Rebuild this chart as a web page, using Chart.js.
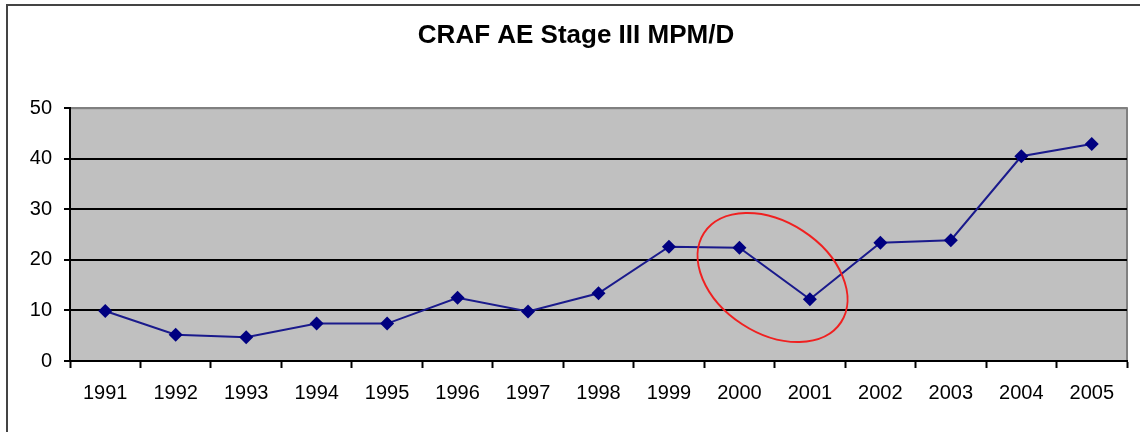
<!DOCTYPE html>
<html>
<head>
<meta charset="utf-8">
<script src="https://cdn.jsdelivr.net/npm/chart.js@4"></script>
<style>
    html, body { margin: 0; padding: 0; background: #fff; }
    #wrap { position: relative; width: 1140px; height: 432px; overflow: hidden; }
    #frame { position: absolute; left: 6px; top: 4px; width: 1200px; height: 500px; border: 2px solid #444; box-sizing: border-box; }
    canvas { position: absolute; left: 0; top: 0; }
</style>
</head>
<body>
<div id="wrap">
    <div id="frame"></div>
    <canvas id="chart" width="1140" height="432"></canvas>
</div>
<script>
const years = ['1991', '1992', '1993', '1994', '1995', '1996', '1997', '1998', '1999', '2000', '2001', '2002', '2003', '2004', '2005'];
const mpmValues = [9.9, 5.2, 4.7, 7.4, 7.4, 12.5, 9.8, 13.4, 22.6, 22.4, 12.2, 23.4, 23.9, 40.5, 42.9];
const yTicks = [0, 10, 20, 30, 40, 50];

// highlighted dip (2000 -> 2001), in data units
const circleCenter = { x: 9.47, y: 16.5 };

Chart.defaults.font.family = '"Liberation Sans", Arial, sans-serif';
Chart.defaults.color = '#000';

const plotBackground = {
    id: 'plotBackground',
    beforeDraw(chart) {
        const { ctx, chartArea: a } = chart;
        ctx.save();
        ctx.fillStyle = '#C0C0C0';
        ctx.fillRect(a.left, a.top, a.right - a.left, a.bottom - a.top);
        ctx.strokeStyle = '#808080';
        ctx.lineWidth = 2;
        ctx.strokeRect(a.left, a.top, a.right - a.left, a.bottom - a.top);
        ctx.restore();
    }
};

const redCircle = {
    id: 'redCircle',
    afterDatasetsDraw(chart) {
        const { ctx, scales } = chart;
        const x = scales.x;
        const y = scales.y;
        const step = x.getPixelForValue(1) - x.getPixelForValue(0);
        const cx = x.getPixelForValue(9) + (circleCenter.x - 9) * step;
        const cy = y.getPixelForValue(circleCenter.y);
        ctx.save();
        ctx.strokeStyle = '#F02020';
        ctx.lineWidth = 2;
        ctx.beginPath();
        ctx.ellipse(cx, cy, step * 1.16, step * 0.79, 33 * Math.PI / 180, 0, Math.PI * 2);
        ctx.stroke();
        ctx.restore();
    }
};

new Chart(document.getElementById('chart'), {
    type: 'line',
    data: {
        labels: years,
        datasets: [{
            data: mpmValues,
            borderColor: '#1A1A8C',
            borderWidth: 2,
            backgroundColor: '#000080',
            pointStyle: 'rectRot',
            pointRadius: 7,
            pointBorderWidth: 0,
            pointBackgroundColor: '#000080',
            tension: 0
        }]
    },
    options: {
        responsive: false,
        animation: false,
        layout: { padding: { left: 25, right: 13, top: 0, bottom: 0 } },
        plugins: {
            legend: { display: false },
            tooltip: { enabled: false },
            title: {
                display: true,
                text: 'CRAF AE Stage III MPM/D',
                color: '#000',
                font: { size: 26, weight: 'bold' },
                padding: { top: 20, bottom: 57 }
            }
        },
        scales: {
            x: {
                offset: true,
                grid: {
                    offset: true,
                    drawOnChartArea: false,
                    drawTicks: true,
                    tickLength: 7,
                    tickColor: '#000',
                    tickWidth: 2
                },
                border: { display: true, color: '#000', width: 2 },
                ticks: {
                    color: '#000',
                    font: { size: 20 },
                    padding: 13,
                    maxRotation: 0,
                    autoSkip: false
                },
                afterFit(scale) { scale.height = 71; }
            },
            y: {
                min: 0,
                max: 50,
                afterBuildTicks(scale) { scale.ticks = yTicks.map(v => ({ value: v })); },
                grid: {
                    color: ctx => (ctx.tick && ctx.tick.value === 50 ? '#808080' : '#000'),
                    lineWidth: 2,
                    tickLength: 6,
                    tickColor: '#000',
                    tickWidth: 2
                },
                border: { display: true, color: '#000', width: 2 },
                ticks: {
                    color: '#000',
                    font: { size: 20 },
                    padding: 12
                },
                afterFit(scale) { scale.width = 45; }
            }
        }
    },
    plugins: [plotBackground, redCircle]
});
</script>
</body>
</html>
